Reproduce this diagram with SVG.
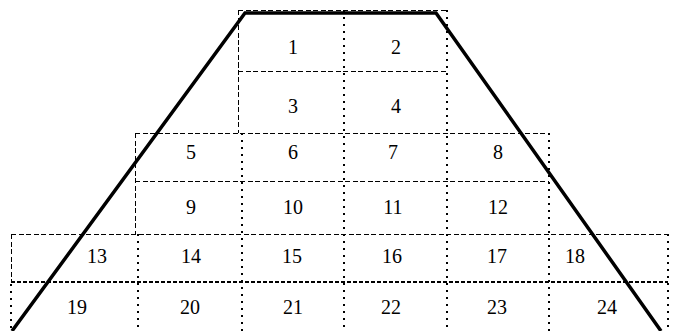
<svg xmlns="http://www.w3.org/2000/svg" width="677" height="331" viewBox="0 0 677 331">
<style>
.dash{stroke:#000;stroke-width:1;stroke-dasharray:5 2.5;fill:none;shape-rendering:crispEdges}
.dot{stroke:#000;stroke-width:2;stroke-dasharray:2 5;fill:none;shape-rendering:crispEdges}
.bold{stroke:#000;stroke-width:2;stroke-dasharray:4 2;fill:none;shape-rendering:crispEdges}
.outline{stroke:#000;stroke-width:3.5;fill:none;stroke-linejoin:miter}
text{font-family:"Liberation Serif","Times New Roman",serif;font-size:20px;text-anchor:middle;fill:#000}
</style>
<rect width="677" height="331" fill="#fff"/>
<g id="connectors">
<line class="dash" x1="238" y1="10.5" x2="447" y2="10.5"/>
<line class="dash" x1="238" y1="71.5" x2="447" y2="71.5"/>
<line class="dash" x1="135" y1="133.5" x2="549" y2="133.5"/>
<line class="dash" x1="135" y1="181.5" x2="549" y2="181.5"/>
<line class="dash" x1="11" y1="234.5" x2="668" y2="234.5"/>
<line class="bold" x1="11" y1="282" x2="668" y2="282"/>
<line class="dash" x1="238.5" y1="10" x2="238.5" y2="133"/>
<line class="dash" x1="135.5" y1="133" x2="135.5" y2="234"/>
<line class="dash" x1="11.5" y1="234" x2="11.5" y2="282"/>
<line class="dot" x1="11" y1="284" x2="11" y2="331"/>
<line class="dot" x1="138" y1="234" x2="138" y2="331"/>
<line class="dot" x1="242" y1="133" x2="242" y2="331"/>
<line class="dot" x1="344" y1="10" x2="344" y2="331"/>
<line class="dot" x1="447" y1="10" x2="447" y2="331"/>
<line class="dot" x1="549" y1="133" x2="549" y2="331"/>
<line class="dot" x1="668" y1="234" x2="668" y2="331"/>
</g>
<g id="outline">
<polyline class="outline" points="12,331 245,13 436,13 661,331"/>
</g>
<g id="n1"><text x="293" y="54">1</text></g>
<g id="n2"><text x="396" y="54">2</text></g>
<g id="n3"><text x="293" y="113">3</text></g>
<g id="n4"><text x="396" y="113">4</text></g>
<g id="n5"><text x="191" y="159">5</text></g>
<g id="n6"><text x="293" y="159">6</text></g>
<g id="n7"><text x="393" y="159">7</text></g>
<g id="n8"><text x="498" y="159">8</text></g>
<g id="n9"><text x="191" y="214">9</text></g>
<g id="n10"><text x="293" y="214">10</text></g>
<g id="n11"><text x="393" y="214">11</text></g>
<g id="n12"><text x="498" y="214">12</text></g>
<g id="n13"><text x="97" y="263">13</text></g>
<g id="n14"><text x="191" y="263">14</text></g>
<g id="n15"><text x="292" y="263">15</text></g>
<g id="n16"><text x="392" y="263">16</text></g>
<g id="n17"><text x="497" y="263">17</text></g>
<g id="n18"><text x="575" y="263">18</text></g>
<g id="n19"><text x="77" y="314">19</text></g>
<g id="n20"><text x="190" y="314">20</text></g>
<g id="n21"><text x="293" y="314">21</text></g>
<g id="n22"><text x="391" y="314">22</text></g>
<g id="n23"><text x="497" y="314">23</text></g>
<g id="n24"><text x="607" y="314">24</text></g>
</svg>
